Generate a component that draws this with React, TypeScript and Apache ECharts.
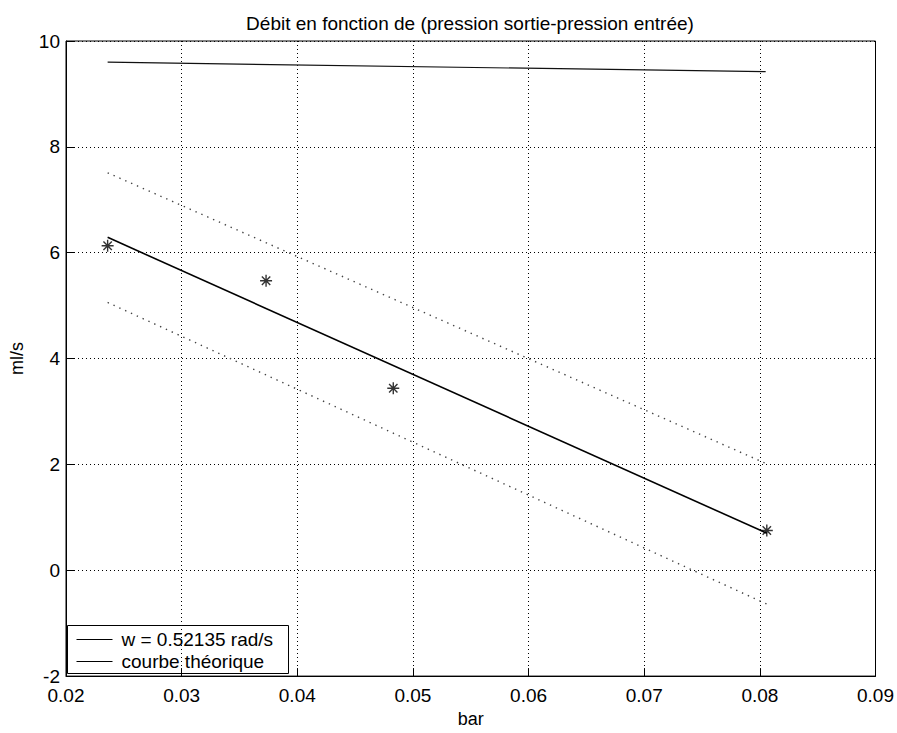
import React, { useEffect, useRef } from "react";
import * as echarts from "echarts";

// Measured points (bar, ml/s)
const xMeasured = [0.0236, 0.0373, 0.0483, 0.0806];
const yMeasured = [6.13, 5.47, 3.44, 0.75];

// Fitted line and its bounds (end points)
const lineX = [0.0236, 0.0806];
const fitY = [6.29, 0.7];
const upperY = [7.51, 2.01];
const lowerY = [5.06, -0.64];

// Theoretical curve
const theoX = [0.0236, 0.0805];
const theoY = [9.6, 9.42];

const xTicks = { min: 0.02, max: 0.09, interval: 0.01 };
const yTicks = { min: -2, max: 10, interval: 2 };

const legendLabels = ["w = 0.52135 rad/s", "courbe théorique"];
const titleText = "Débit en fonction de (pression sortie-pression entrée)";

const FONT = "'Liberation Sans', Arial, Helvetica, sans-serif";
const FS = 19;

const pair = (xs: number[], ys: number[]) => xs.map((x, i) => [x, ys[i]]);

const ASTERISK =
  "path://M5,0 L5,10 M0,5 L10,5 M1.5,1.5 L8.5,8.5 M8.5,1.5 L1.5,8.5";

export default function App() {
  const ref = useRef<HTMLDivElement>(null);
  useEffect(() => {
    if (!ref.current) return;
    const chart = echarts.init(ref.current, undefined, { renderer: "svg" });
    const gridLine = { show: true, lineStyle: { color: "#000", type: [1, 3] as any, width: 1 } };
    chart.setOption({
      animation: false,
      backgroundColor: "#fff",
      textStyle: { fontFamily: FONT },
      title: {
        text: titleText,
        left: 465,
        textAlign: "center",
        top: 9,
        textStyle: { fontFamily: FONT, fontSize: FS, fontWeight: "normal", color: "#000" },
      },
      grid: {
        left: 57.5,
        right: 20.5,
        top: 41,
        bottom: 50.3,
        show: true,
        borderColor: "#000",
        borderWidth: 1,
        backgroundColor: "transparent",
      },
      xAxis: {
        type: "value",
        min: xTicks.min,
        max: xTicks.max,
        interval: xTicks.interval,
        name: "bar",
        nameLocation: "middle",
        nameGap: 33,
        nameTextStyle: { fontFamily: FONT, fontSize: FS - 1, color: "#000" },
        axisLine: { show: true, onZero: false, lineStyle: { color: "#000" } },
        axisTick: { show: true, inside: true, length: 8, lineStyle: { color: "#000" } },
        axisLabel: {
          fontFamily: FONT,
          fontSize: FS,
          color: "#000",
          margin: 10,
          formatter: (v: number) => v.toFixed(2),
        },
        splitLine: gridLine,
      },
      yAxis: {
        type: "value",
        min: yTicks.min,
        max: yTicks.max,
        interval: yTicks.interval,
        name: "ml/s",
        nameLocation: "middle",
        nameGap: 40,
        nameRotate: 90,
        nameTextStyle: { fontFamily: FONT, fontSize: FS - 1, color: "#000" },
        axisLine: { show: true, onZero: false, lineStyle: { color: "#000" } },
        axisTick: { show: true, inside: true, length: 8, lineStyle: { color: "#000" } },
        axisLabel: { fontFamily: FONT, fontSize: FS, color: "#000", margin: 6 },
        splitLine: gridLine,
      },
      series: [
        {
          type: "line",
          data: pair(theoX, theoY),
          symbol: "none",
          lineStyle: { color: "#111", width: 1.2 },
        },
        {
          type: "line",
          data: pair(lineX, upperY),
          symbol: "none",
          lineStyle: { color: "#444", width: 1.4, type: [1.4, 5] as any },
        },
        {
          type: "line",
          data: pair(lineX, lowerY),
          symbol: "none",
          lineStyle: { color: "#444", width: 1.4, type: [1.4, 5] as any },
        },
        {
          type: "line",
          data: pair(lineX, fitY),
          symbol: "none",
          lineStyle: { color: "#000", width: 1.6 },
        },
        {
          type: "scatter",
          data: pair(xMeasured, yMeasured),
          symbol: ASTERISK,
          symbolSize: 12,
          itemStyle: { color: "none", borderColor: "#000", borderWidth: 1.4 },
          z: 5,
        },
      ],
      graphic: [
        {
          type: "group",
          left: 67,
          top: 625,
          children: [
            {
              type: "rect",
              shape: { x: 0, y: 0, width: 221, height: 48 },
              style: { fill: "#fff", stroke: "#000", lineWidth: 1 },
            },
            {
              type: "line",
              shape: { x1: 9, y1: 14, x2: 45, y2: 14 },
              style: { stroke: "#000", lineWidth: 1 },
            },
            {
              type: "line",
              shape: { x1: 9, y1: 36, x2: 45, y2: 36 },
              style: { stroke: "#000", lineWidth: 1 },
            },
            {
              type: "text",
              x: 54,
              y: 14,
              style: {
                text: legendLabels[0],
                fontFamily: FONT,
                fontSize: FS,
                fill: "#000",
                verticalAlign: "middle",
              },
            },
            {
              type: "text",
              x: 54,
              y: 36,
              style: {
                text: legendLabels[1],
                fontFamily: FONT,
                fontSize: FS,
                fill: "#000",
                verticalAlign: "middle",
              },
            },
          ],
        },
      ],
    });
    return () => chart.dispose();
  }, []);
  return <div ref={ref} style={{ width: 897, height: 733, position: "absolute", left: 0, top: 0 }} />;
}
